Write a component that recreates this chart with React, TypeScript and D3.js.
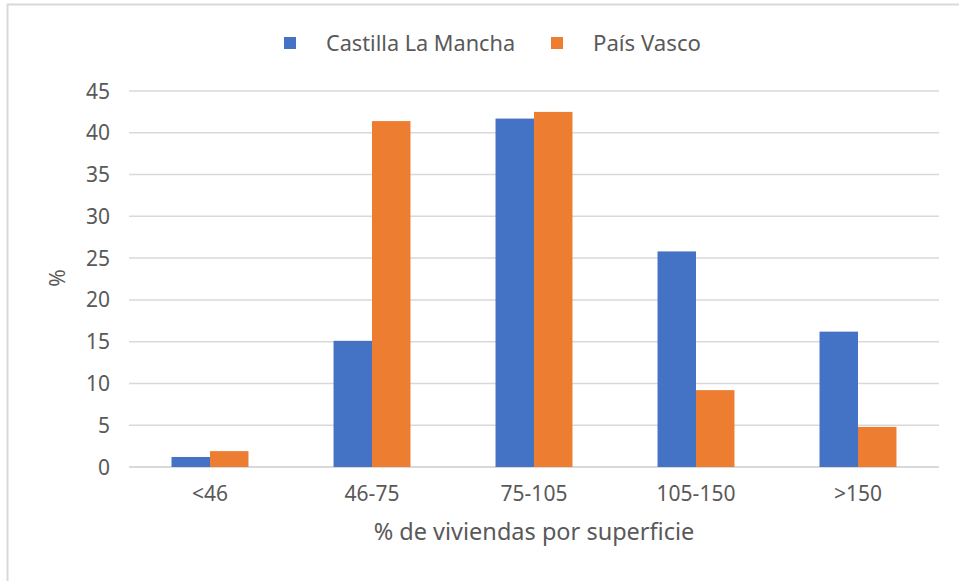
import React from "react";
import * as d3 from "d3";

const categories = ["<46", "46-75", "75-105", "105-150", ">150"];
const seriesNames = ["Castilla La Mancha", "País Vasco"];
const castilla = [1.2, 15.1, 41.7, 25.8, 16.2];
const paisVasco = [1.9, 41.4, 42.5, 9.2, 4.8];
const yTicks = [0, 5, 10, 15, 20, 25, 30, 35, 40, 45];
const colors = ["#4472c4", "#ed7d31"];

const W = 959;
const H = 581;
const margin = { left: 129, right: 20, top: 91, bottom: 114 };
const FONT = "'Noto Sans', 'DejaVu Sans', sans-serif";
const TEXT = "#595959";

export default function App() {
  const x0 = d3
    .scaleBand<string>()
    .domain(categories)
    .range([margin.left, W - margin.right])
    .paddingInner(0.525)
    .paddingOuter(0.2625);
  const x1 = d3.scaleBand<string>().domain(seriesNames).range([0, x0.bandwidth()]);
  const y = d3.scaleLinear().domain([0, 45]).range([H - margin.bottom, margin.top]);
  const series = [castilla, paisVasco];

  return (
    <svg width={W} height={H} style={{ position: "absolute", left: 0, top: 0, background: "#fff" }}>
      <rect x={0} y={0} width={W} height={H} fill="#fff" />
      <line x1={7} x2={W} y1={4.5} y2={4.5} stroke="#d9d9d9" strokeWidth={2} />
      <line x1={7.5} x2={7.5} y1={4} y2={H} stroke="#d9d9d9" strokeWidth={2} />
      {yTicks.map((t) => (
        <g key={t}>
          <line
            x1={margin.left}
            x2={W - margin.right}
            y1={y(t)}
            y2={y(t)}
            stroke="#d9d9d9"
            strokeWidth={t === 0 ? 2 : 1.5}
          />
          <text
            x={margin.left - 19}
            y={y(t)}
            dy="0.36em"
            textAnchor="end"
            fontFamily={FONT}
            fontSize={21}
            fill={TEXT}
          >
            {t}
          </text>
        </g>
      ))}
      {categories.map((c, i) => (
        <g key={c}>
          {series.map((s, j) => (
            <rect
              key={j}
              x={(x0(c) ?? 0) + (x1(seriesNames[j]) ?? 0)}
              y={y(s[i])}
              width={x1.bandwidth()}
              height={y(0) - y(s[i])}
              fill={colors[j]}
            />
          ))}
          <text
            x={(x0(c) ?? 0) + x0.bandwidth() / 2}
            y={501}
            textAnchor="middle"
            fontFamily={FONT}
            fontSize={21}
            fill={TEXT}
          >
            {c}
          </text>
        </g>
      ))}
      <text
        x={534}
        y={540}
        textAnchor="middle"
        fontFamily={FONT}
        fontSize={23.5}
        fill={TEXT}
      >
        % de viviendas por superficie
      </text>
      <text
        transform={`translate(65, 278) rotate(-90)`}
        textAnchor="middle"
        fontFamily={FONT}
        fontSize={21}
        fill={TEXT}
      >
        %
      </text>
      {seriesNames.map((n, j) => {
        const sx = j === 0 ? 284 : 551;
        return (
          <g key={n}>
            <rect x={sx} y={37} width={12} height={12} fill={colors[j]} />
            <text x={sx + 42} y={43} dy="0.36em" fontFamily={FONT} fontSize={j === 0 ? 21.7 : 22.2} fill={TEXT}>
              {n}
            </text>
          </g>
        );
      })}
    </svg>
  );
}
